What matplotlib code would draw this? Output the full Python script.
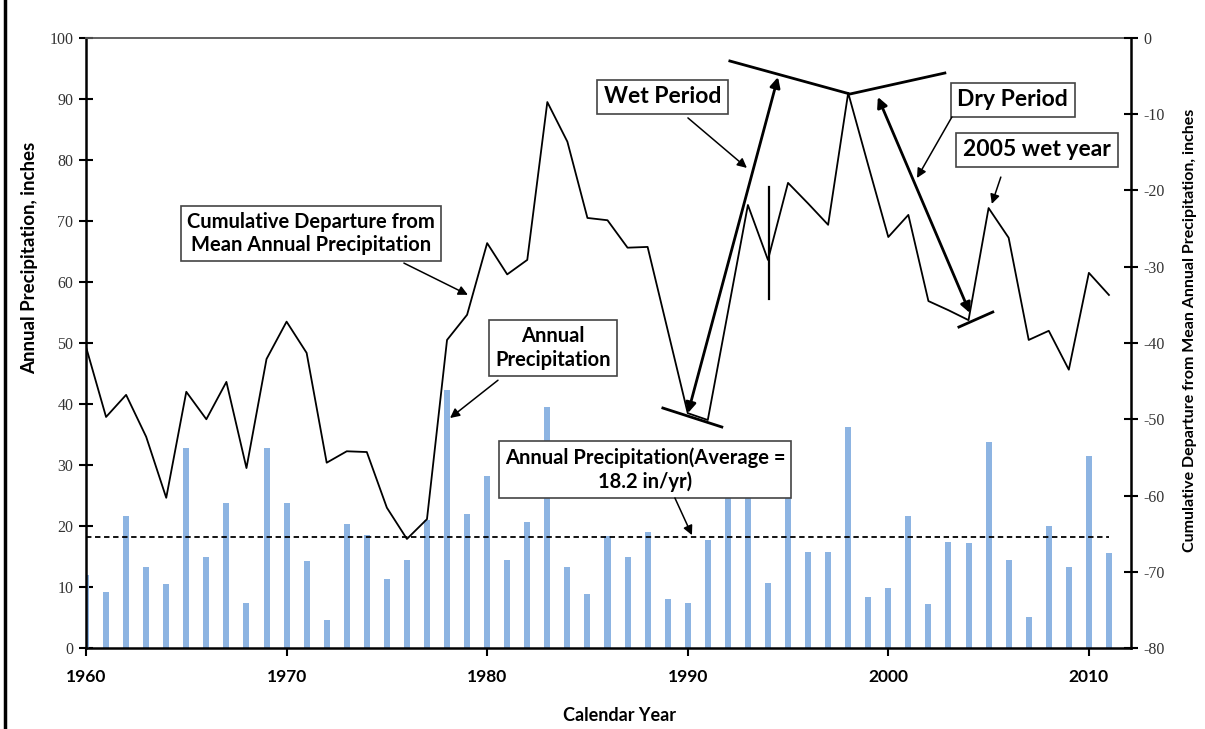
import numpy as np
import matplotlib
matplotlib.use('Agg')
import matplotlib.pyplot as plt
from matplotlib.lines import Line2D

# years and values
years = np.arange(1960, 2012)
annual_precip = [12.0, 9.2, 21.6, 13.2, 10.5, 32.8, 15.0, 23.7, 7.3, 32.8,
                 23.7, 14.3, 4.6, 20.3, 18.5, 11.3, 14.4, 21.0, 42.3, 22.0,
                 28.2, 14.4, 20.7, 39.5, 13.3, 8.9, 18.4, 15.0, 19.0, 8.0,
                 7.4, 17.7, 32.0, 32.0, 10.6, 28.5, 15.8, 15.8, 36.2, 8.4,
                 9.8, 21.6, 7.2, 17.4, 17.2, 33.8, 14.4, 5.1, 20.0, 13.3,
                 31.5, 15.6]
cum_departure = [-40.5, -49.7, -46.8, -52.3, -60.3, -46.4, -50.0, -45.1, -56.4, -42.1,
                 -37.2, -41.3, -55.7, -54.2, -54.3, -61.6, -65.7, -63.1, -39.6, -36.3,
                 -26.9, -31.0, -29.1, -8.4, -13.6, -23.6, -23.9, -27.5, -27.4, -38.3,
                 -49.2, -50.1, -36.0, -21.9, -29.1, -19.0, -21.7, -24.5, -7.2, -16.7,
                 -26.1, -23.2, -34.5, -35.7, -37.0, -22.3, -26.2, -39.6, -38.4, -43.5,
                 -30.8, -33.7]
avg_precip = 18.2
x_ticks = [1960, 1970, 1980, 1990, 2000, 2010]

sans = ['Lato', 'DejaVu Sans']
serif = ['Liberation Serif', 'DejaVu Serif']

fig = plt.figure(figsize=(12.05, 7.29), dpi=100)
ax = fig.add_axes([86 / 1205, 1 - 648 / 729, 1045 / 1205, 610 / 729])

# bars + average line
ax.bar(years, annual_precip, width=0.3, color='#8db4e2', zorder=2)
ax.hlines(avg_precip, 1960, 2011, colors='black', linestyles=(0, (3, 2)), lw=1.3, zorder=3)

ax.set_xlim(1960, 2012.1)
ax.set_ylim(0, 100)
ax.set_xticks(x_ticks)
ax.set_xticklabels([str(y) for y in x_ticks], family=sans, fontweight='bold', fontsize=12.5)
ax.set_yticks(np.arange(0, 101, 10))
ax.set_yticklabels([str(v) for v in range(0, 101, 10)], family=serif, fontsize=11.5, color='#333333')
ax.tick_params(axis='x', direction='out', length=6, width=1.5, pad=9)
ax.tick_params(axis='y', direction='inout', length=10, width=1.5, pad=4)
ax.set_ylabel('Annual Precipitation, inches', family=sans, fontweight='bold', fontsize=13.5)
ax.yaxis.set_label_coords(-0.046, 0.64)
ax.set_xlabel('Calendar Year', family=sans, fontweight='bold', fontsize=13)
ax.xaxis.set_label_coords(0.511, -0.097)
for s in ['left', 'bottom']:
    ax.spines[s].set_linewidth(1.8)
ax.spines['right'].set_visible(False)
ax.spines['top'].set_linewidth(1.3)
ax.spines['top'].set_color('#555555')

# cumulative departure on the right axis
axr = ax.twinx()
axr.plot(years, cum_departure, color='black', lw=1.3, zorder=3)
axr.set_ylim(-80, 0)
axr.set_yticks(np.arange(-80, 1, 10))
axr.set_yticklabels([str(v) for v in range(-80, 1, 10)], family=serif, fontsize=11.5, color='#333333')
axr.tick_params(axis='y', direction='inout', length=10, width=1.5, pad=4)
axr.spines['right'].set_linewidth(1.8)
axr.spines['left'].set_visible(False)
axr.spines['bottom'].set_visible(False)
axr.spines['top'].set_visible(False)
axr.set_ylabel('Cumulative Departure from Mean Annual Precipitation, inches',
               family=sans, fontweight='bold', fontsize=11.5)
axr.yaxis.set_label_coords(1.05, 0.52)

T = ax.transData
box = dict(boxstyle='square,pad=0.3', fc='white', ec='#444444', lw=1.2)

def label(x, y, txt, size):
    axr.text(x, y, txt, transform=T, ha='center', va='center', family=sans,
             fontweight='bold', fontsize=size, bbox=box, zorder=6, linespacing=1.2)

def pointer(tail, head):
    axr.annotate('', xy=head, xytext=tail, xycoords=T, textcoords=T,
                 arrowprops=dict(arrowstyle='-|>', color='black', lw=1.1, mutation_scale=14,
                                 shrinkA=0, shrinkB=0), zorder=6)

label(1971.22, 67.95, 'Cumulative Departure from\nMean Annual Precipitation', 14.5)
pointer((1975.85, 63.1), (1979.04, 57.9))
label(1983.28, 49.18, 'Annual\nPrecipitation', 14.5)
pointer((1980.54, 43.9), (1978.15, 37.7))
label(1987.87, 29.3, 'Annual Precipitation(Average =\n18.2 in/yr)', 14.5)
pointer((1989.36, 24.6), (1990.21, 18.5))
label(1988.76, 90.33, 'Wet Period', 16.5)
pointer((1990.01, 86.9), (1992.95, 78.7))
label(2006.21, 89.84, 'Dry Period', 16.5)
pointer((2003.17, 87.05), (2001.43, 77.05))
label(2007.41, 81.64, '2005 wet year', 16.5)
pointer((2005.61, 77.2), (2005.16, 72.8))

# wet / dry period trend arrows
for a, b in [((1990.01, 38.5), (1994.5, 93.6)), ((1999.48, 90.33), (2004.07, 54.92))]:
    axr.annotate('', xy=b, xytext=a, xycoords=T, textcoords=T,
                 arrowprops=dict(arrowstyle='<|-|>', color='black', lw=2, mutation_scale=15,
                                 shrinkA=0, shrinkB=0), zorder=5)
for xs, ys in [([1992.1, 1998.09, 2002.82], [96.23, 90.82, 94.26]),
               ([1988.76, 1991.7], [39.34, 36.23]),
               ([2003.52, 2005.21], [52.62, 55.08])]:
    axr.add_line(Line2D(xs, ys, transform=T, color='black', lw=2, zorder=5))
axr.add_line(Line2D([1994.05, 1994.05], [75.6, 57.2], transform=T, color='black', lw=1.6, zorder=5))

# outer frame edge on the left
fig.add_artist(Line2D([5 / 1205, 5 / 1205], [0, 1], transform=fig.transFigure, color='black', lw=2.5))

fig.savefig('out.png', dpi=100)
